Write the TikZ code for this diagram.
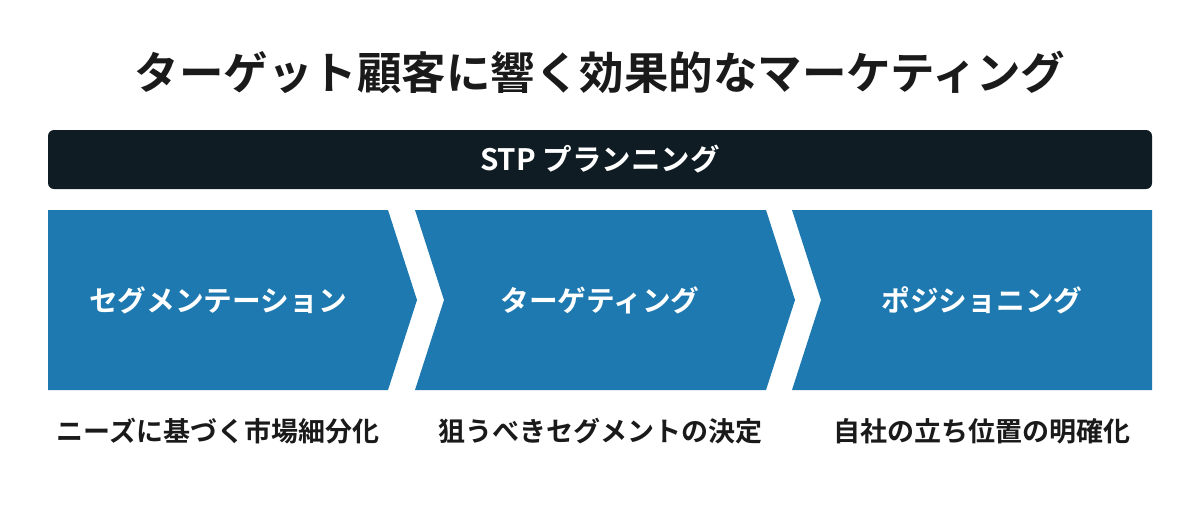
\documentclass[tikz,border=0pt]{standalone}
\usepackage{fontspec}
\setmainfont{Noto Sans CJK JP}[BoldFont={Noto Sans CJK JP Bold}]
\definecolor{blueA}{HTML}{1D79B0}
\definecolor{darkA}{HTML}{0F1C23}
\definecolor{txtA}{HTML}{1A1A1A}
\begin{document}
\begin{tikzpicture}[x=1pt,y=-1pt,
  lbl/.style={text=white,font=\bfseries\fontsize{28.7}{32}\selectfont},
  captxt/.style={text=txtA,font=\bfseries\fontsize{27}{30}\selectfont}]
\useasboundingbox (0,0) rectangle (1200,504);
\node[text=txtA,font=\bfseries\fontsize{44.5}{48}\selectfont] (title) at (600,72) {ターゲット顧客に響く効果的なマーケティング};
\fill[darkA,rounded corners=6pt] (48,130) rectangle (1152,189);
\node[text=white,font=\bfseries\fontsize{29.5}{32}\selectfont] (stp) at (600,159) {STP プランニング};
\fill[blueA] (48,210) -- (388,210) -- (417,300) -- (388,390) -- (48,390) -- cycle;
\fill[blueA] (415,210) -- (766,210) -- (795,300) -- (766,390) -- (415,390) -- (444,300) -- cycle;
\fill[blueA] (792,210) -- (1152,210) -- (1152,390) -- (792,390) -- (821,300) -- cycle;
\node[lbl] (s1) at (218,300) {セグメンテーション};
\node[lbl] (s2) at (600,300) {ターゲティング};
\node[lbl] (s3) at (982,300) {ポジショニング};
\node[captxt] (c1) at (218,431) {ニーズに基づく市場細分化};
\node[captxt] (c2) at (600,431) {狙うべきセグメントの決定};
\node[captxt] (c3) at (982,431) {自社の立ち位置の明確化};
\end{tikzpicture}
\end{document}
